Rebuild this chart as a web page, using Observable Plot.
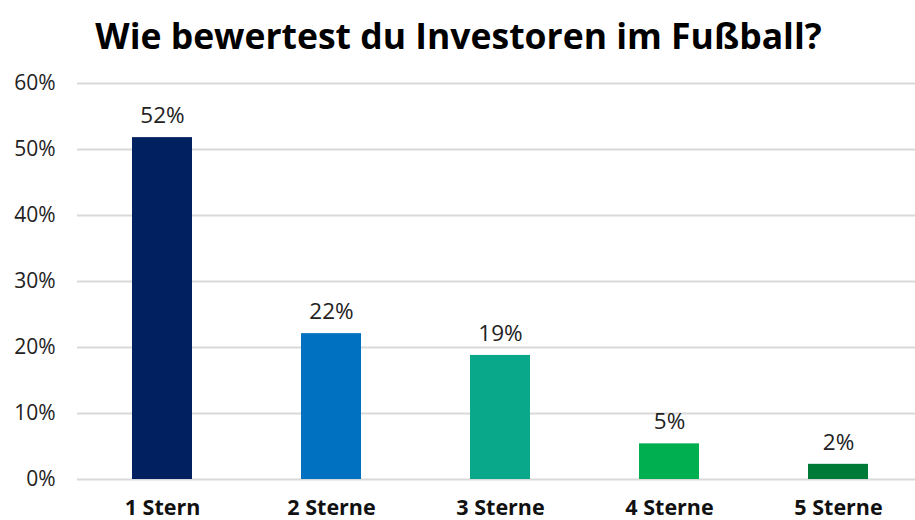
<!DOCTYPE html>
<html>
<head>
<meta charset="utf-8">
<script src="https://cdn.jsdelivr.net/npm/d3@7"></script>
<script src="https://cdn.jsdelivr.net/npm/@observablehq/plot@0.6"></script>
<style>
  html, body { margin: 0; padding: 0; background: #fff; }
  #title { height: 60px; padding-top: 5px; line-height: 60px; text-align: center; font-family: "Open Sans", sans-serif; font-weight: 700; font-size: 35.5px; color: #000; padding-left: 2px; }
  #chart svg { overflow: visible; }
</style>
</head>
<body>
<div id="title">Wie bewertest du Investoren im Fußball?</div>
<div id="chart"></div>
<script>
const categories = ["1 Stern", "2 Sterne", "3 Sterne", "4 Sterne", "5 Sterne"];
const values = [51.8, 22.1, 18.8, 5.4, 2.3];
const labels = ["52%", "22%", "19%", "5%", "2%"];
const colors = ["#002060", "#0070C0", "#0AA88A", "#00B050", "#007A37"];
const yTicks = [0, 10, 20, 30, 40, 50, 60];

const data = categories.map((c, i) => ({cat: c, value: values[i], label: labels[i]}));

const chart = Plot.plot({
  width: 915,
  height: 455,
  marginTop: 18,
  marginBottom: 41,
  marginLeft: 77,
  marginRight: 0,
  style: {fontFamily: "'Open Sans', sans-serif", background: "#fff"},
  x: {domain: categories, paddingInner: 0.645, paddingOuter: 0.298, align: 0.535, label: null},
  y: {domain: [0, 60], label: null},
  color: {domain: categories, range: colors},
  marks: [
    Plot.gridY(yTicks, {stroke: "#d9d9d9", strokeOpacity: 1, strokeWidth: 2}),
    Plot.axisY(yTicks, {tickSize: 0, tickPadding: 22, tickFormat: d => d + "%", fontSize: 21, fill: "#222", label: null}),
    Plot.axisX({tickSize: 0, tickPadding: 20, fontSize: 21.5, fontWeight: 700, fill: "#111", label: null}),
    Plot.barY(data, {x: "cat", y: "value", fill: "cat"}),
    Plot.text(data, {x: "cat", y: "value", text: "label", dy: -22, fontSize: 22.5, fill: "#222"})
  ]
});
document.getElementById("chart").appendChild(chart);
</script>
</body>
</html>
